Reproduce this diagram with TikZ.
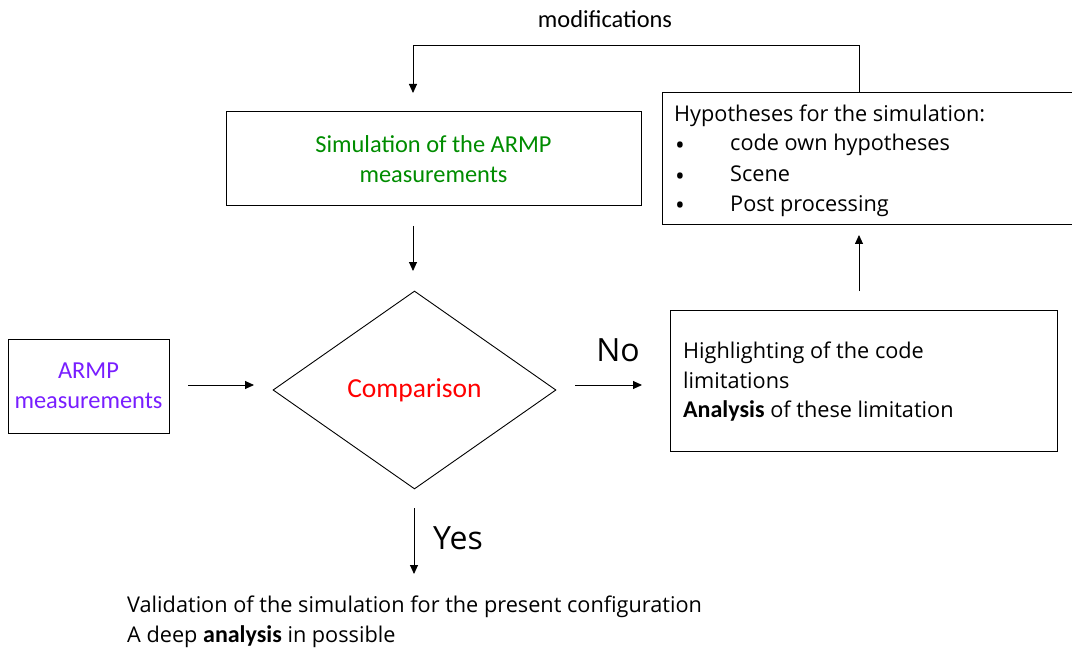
\documentclass[tikz,border=0pt]{standalone}
\usepackage{fontspec}
\setmainfont{Open Sans}
\newfontfamily\carl{Carlito}
\usetikzlibrary{arrows.meta,shapes.geometric}
\definecolor{simgreen}{RGB}{0,140,0}
\definecolor{armpviolet}{RGB}{120,30,255}
\begin{document}
\begin{tikzpicture}[x=1pt,y=-1pt,
  box/.style={draw=black,line width=1pt,rectangle,inner sep=0pt},
  conn/.style={draw=black,line width=0.9pt,-{Triangle[length=9pt,width=8pt]}},
  txt/.style={font=\fontsize{21.7}{30}\selectfont,align=left,anchor=base west,inner sep=0pt},
  bul/.style={font=\fontsize{26}{30}\selectfont,anchor=center,inner sep=0pt},
  lab/.style={font=\fontsize{32}{36}\selectfont, inner sep=0pt},
  ctxt/.style={font=\carl\fontsize{24.4}{30}\selectfont,align=center}
]
\useasboundingbox (0,0) rectangle (1072,650);
% boxes
\node[box,minimum width=415pt,minimum height=94pt] (sim) at (433.5,159) {};
\node[ctxt,text=simgreen] (simt) at (sim.center) {Simulation of the ARMP\\measurements};
\node[box,minimum width=161pt,minimum height=94pt] (armp) at (88.5,386) {};
\node[ctxt,text=armpviolet] (armpt) at (armp.center) {ARMP\\measurements};
\node[diamond,draw=black,line width=0.9pt,minimum width=283pt,minimum height=198pt,inner sep=0pt] (cmp) at (414.5,390) {};
\node[font=\carl\fontsize{27.5}{30}\selectfont,text=red] (cmpt) at (cmp.center) {Comparison};
\node[box,minimum width=387pt,minimum height=141pt] (hl) at (863.5,380.5) {};
\node[txt] (hl1) at (683,358) {Highlighting of the code};
\node[txt] (hl2) at (683,388) {limitations};
\node[txt] (hl3) at (683,417) {{\carl\bfseries\fontsize{24}{30}\selectfont Analysis} of these limitation};
\node[box,minimum width=410pt,minimum height=132pt] (hyp) at (867,159) {};
\node[txt] (hyp0) at (674,121.5) {Hypotheses for the simulation:};
\node[bul] (b1) at (680,148.3) {•};
\node[bul] (b2) at (680,179) {•};
\node[bul] (b3) at (680,208.5) {•};
\node[txt] (i1) at (730,150.5) {code own hypotheses};
\node[txt] (i2) at (730,181.5) {Scene};
\node[txt] (i3) at (730,211.5) {Post processing};
\node[font=\carl\fontsize{24.4}{26}\selectfont] (mod) at (605,19) {modifications};
\node[txt] (val1) at (127,612) {Validation of the simulation for the present configuration};
\node[txt] (val2) at (127,642) {A deep {\carl\bfseries\fontsize{24}{30}\selectfont analysis} in possible};
\node[lab] (no) at (618,350) {No};
\node[lab,anchor=west] (yes) at (433,538) {Yes};
% connector coordinates
\coordinate (fbtop1) at (859,45);
\coordinate (fbtop2) at (413,45);
\coordinate (fbend) at (413,93);
\coordinate (s1) at (413,226);
\coordinate (s2) at (413,271);
\coordinate (a1) at (188,385);
\coordinate (a2) at (254,385);
\coordinate (n1) at (575,385);
\coordinate (n2) at (642,385);
\coordinate (u1) at (859,291);
\coordinate (u2) at (859,235);
\coordinate (y1) at (414,508);
\coordinate (y2) at (414,574);
\draw[conn] (hyp.north -| fbtop1) -- (fbtop1) -- (fbtop2) -- (fbend);
\draw[conn] (s1) -- (s2);
\draw[conn] (a1) -- (a2);
\draw[conn] (n1) -- (n2);
\draw[conn] (u1) -- (u2);
\draw[conn] (y1) -- (y2);
\end{tikzpicture}
\end{document}
